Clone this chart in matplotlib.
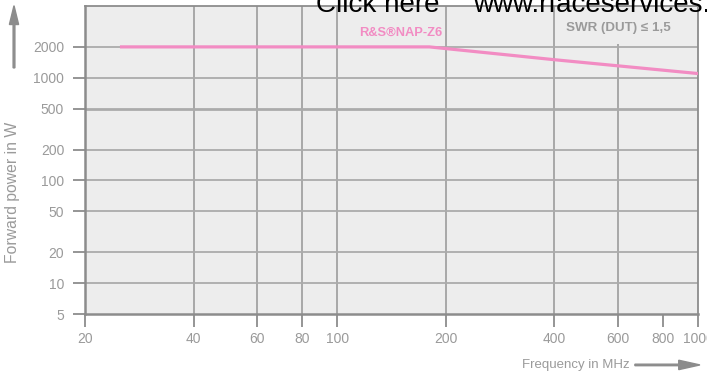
import matplotlib
matplotlib.use("Agg")
import matplotlib.pyplot as plt
from matplotlib.patches import FancyArrow
from matplotlib.ticker import FixedLocator, NullLocator

# forward power rating over frequency
freq_mhz = [25, 180, 400, 1000]
power_w = [2000, 2000, 1500, 1100]

x_ticks = [20, 40, 60, 80, 100, 200, 400, 600, 800, 1000]
x_grid = [40, 60, 80, 100, 200, 400, 600]
y_ticks = [5, 10, 20, 50, 100, 200, 500, 1000, 2000]

GREY_TXT = "#9a9a9a"
GRID = "#ababab"
FRAME = "#8c8c8c"
PINK = "#f28cc3"
BG = "#ededed"

plt.rcParams["font.family"] = ["Liberation Sans", "DejaVu Sans"]

fig = plt.figure(figsize=(7.07, 3.77), dpi=100)
ax = fig.add_axes([0.1202, 0.167, 0.8671, 0.817])
ax.set_facecolor(BG)
ax.set_xscale("log")
ax.set_yscale("log")
ax.set_xlim(20, 1000)
ax.set_ylim(5, 5000)

for x in x_grid:
    ax.axvline(x, color="#9c9c9c", lw=1.2, zorder=1)
for y in y_ticks[1:]:
    ax.axhline(y, color=GRID, lw=2.0 if y == 500 else 1.3, zorder=1)

ax.plot(freq_mhz, power_w, color=PINK, lw=2.3, solid_capstyle="butt", zorder=3)

ax.xaxis.set_major_locator(FixedLocator(x_ticks))
ax.xaxis.set_minor_locator(NullLocator())
ax.yaxis.set_major_locator(FixedLocator(y_ticks))
ax.yaxis.set_minor_locator(NullLocator())
ax.set_xticklabels([str(v) for v in x_ticks])
ax.set_yticklabels([str(v) for v in y_ticks])
ax.tick_params(axis="both", colors=FRAME, labelcolor=GREY_TXT, labelsize=10,
               length=9, width=1.3)
ax.tick_params(axis="x", pad=4)
ax.tick_params(axis="y", pad=6)
for side in ("left", "bottom"):
    ax.spines[side].set_color(FRAME)
    ax.spines[side].set_linewidth(1.8)
for side in ("top", "right"):
    ax.spines[side].set_color(FRAME)
    ax.spines[side].set_linewidth(1.3)

ax.text(150, 2730, "R&S®NAP-Z6", color=PINK, fontsize=9.3, fontweight="bold",
        ha="center", va="center", zorder=4)
ax.text(603, 3060, "SWR (DUT) ≤ 1,5", color=GREY_TXT, fontsize=9.6, fontweight="bold",
        ha="center", va="center", zorder=4,
        bbox=dict(facecolor=BG, edgecolor="none", pad=7))

# axis captions with arrows
fig.text(0.018, 0.49, "Forward power in W", rotation=90, color=GREY_TXT,
         fontsize=11.3, ha="center", va="center")
fig.patches.append(FancyArrow(
    0.0198, 0.82, 0, 0.165, width=0.0025, head_width=0.013, head_length=0.05,
    length_includes_head=True, color=FRAME, transform=fig.transFigure, figure=fig))
fig.text(0.891, 0.032, "Frequency in MHz", color=GREY_TXT, fontsize=9.5,
         ha="right", va="center")
fig.patches.append(FancyArrow(
    0.898, 0.032, 0.092, 0, width=0.004, head_width=0.025, head_length=0.03,
    length_includes_head=True, color=FRAME, transform=fig.transFigure, figure=fig))

# link banner running off the top edge
fig.text(0.447, 0.968, "Click here", color="black", fontsize=20,
         ha="left", va="baseline")
fig.text(0.669, 0.968, "www.rfaceservices.com", color="black", fontsize=20,
         ha="left", va="baseline")

fig.savefig("out.png", dpi=100)
